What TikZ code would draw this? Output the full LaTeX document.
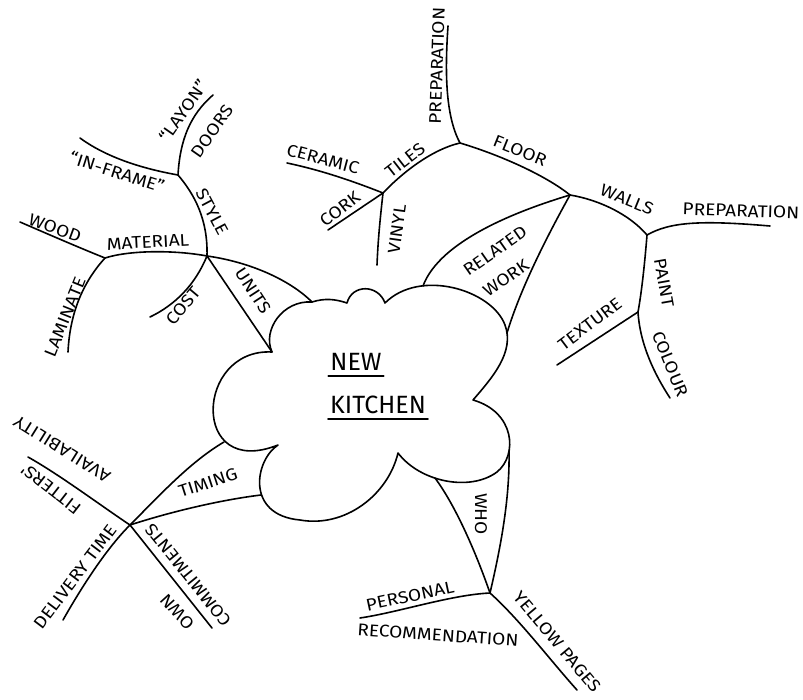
\documentclass[tikz,border=0pt]{standalone}
\usepackage{fontspec}
\setmainfont{Fira Sans}
\newfontfamily\handfont{Fira Sans}[FakeStretch=1.12]
\begin{document}
\begin{tikzpicture}[x=1pt,y=-1pt,
  branch/.style={line width=1.6pt, line cap=round, line join=round},
  lbl/.style={font=\handfont\fontsize{17}{17}\selectfont, inner sep=0pt},
  ttl/.style={font=\fontsize{25}{25}\selectfont, inner sep=2pt}]
\useasboundingbox (0,0) rectangle (803,700);
% hubs
\coordinate (H1) at (207,256);
\coordinate (H2) at (105,258);
\coordinate (H3) at (178,175);
\coordinate (H4) at (460,143);
\coordinate (H5) at (570,195);
\coordinate (H6) at (383,193);
\coordinate (H7) at (647,235);
\coordinate (H8) at (638,312);
\coordinate (H9) at (130,525);
\coordinate (H10) at (490,593);
% free ends
\coordinate (Ewood) at (20,222);
\coordinate (Elam) at (68,352);
\coordinate (Einframe) at (80,138);
\coordinate (Edoors) at (213,95);
\coordinate (Ecost) at (150,317);
\coordinate (EprepF) at (448,26);
\coordinate (Eceramic) at (287,163);
\coordinate (Ecork) at (328,230);
\coordinate (Evinyl) at (377,265);
\coordinate (EprepW) at (770,226);
\coordinate (Etexture) at (557,365);
\coordinate (Ecolour) at (670,398);
\coordinate (Efitters) at (28,457);
\coordinate (Edelivery) at (63,620);
\coordinate (Eown) at (212,628);
\coordinate (Epersonal) at (360,618);
\coordinate (Eyellow) at (577,690);
% cloud points
\coordinate (C1) at (272,352);
\coordinate (C2) at (312,302);
\coordinate (C3) at (347,303);
\coordinate (C4) at (385,303);
\coordinate (C5) at (473,400);
\coordinate (C6) at (398,453);
\coordinate (C7) at (278,445);
\coordinate (Ctu) at (224,442);
\coordinate (Ctl) at (261,495);
\coordinate (Cwl) at (435,478);
\coordinate (Cwr) at (509,451);
\coordinate (Crr) at (507,333);
\coordinate (Crl) at (423,286);
% cloud
\draw[branch] (C1) .. controls (195,348) and (190,480) .. (C7)
  .. controls (255,460) and (245,515) .. (300,520)
  .. controls (345,528) and (388,495) .. (C6)
  .. controls (420,482) and (470,492) .. (497,472)
  .. controls (518,455) and (515,412) .. (C5)
  .. controls (492,378) and (515,352) .. (505,325)
  .. controls (492,290) and (420,268) .. (C4)
  .. controls (378,284) and (352,284) .. (C3)
  .. controls (335,299) and (325,298) .. (C2)
  .. controls (283,300) and (262,330) .. (C1) -- cycle;
\node[ttl] (new) at (356,362) {NEW};
\node[ttl] (kitchen) at (378,405) {KITCHEN};
\draw[branch] ([yshift=-3pt]new.south west) -- ([yshift=-3pt]new.south east);
\draw[branch] ([yshift=-3pt]kitchen.south west) -- ([yshift=-3pt]kitchen.south east);
% units group
\draw[branch] (H1) .. controls (250,262) and (290,280) .. (C2);
\draw[branch] (H1) -- (C1);
\draw[branch] (H1) .. controls (195,285) and (175,305) .. (Ecost);
\draw[branch] (H1) .. controls (175,250) and (130,250) .. (H2);
\draw[branch] (H2) .. controls (80,248) and (50,235) .. (Ewood);
\draw[branch] (H2) .. controls (85,280) and (70,310) .. (Elam);
\draw[branch] (H1) .. controls (208,220) and (195,195) .. (H3);
\draw[branch] (H3) .. controls (150,170) and (110,160) .. (Einframe);
\draw[branch] (H3) .. controls (180,140) and (190,115) .. (Edoors);
\node[lbl, rotate=-57] (units) at (253,291) {UNITS};
\node[lbl, rotate=50] (cost) at (183,306) {COST};
\node[lbl, rotate=3] (material) at (148,242) {MATERIAL};
\node[lbl, rotate=-20] (wood) at (55,228) {WOOD};
\node[lbl, rotate=68] (laminate) at (65,317) {LAMINATE};
\node[lbl, rotate=-62] (style) at (212,212) {STYLE};
\node[lbl, rotate=-18] (inframe) at (117,172) {“IN-FRAME”};
\node[lbl, rotate=55] (layon) at (183,111) {“LAYON”};
\node[lbl, rotate=55] (doors) at (212,131) {DOORS};
% floor group
\draw[branch] (H4) .. controls (500,155) and (545,175) .. (H5);
\draw[branch] (H4) .. controls (445,115) and (445,70) .. (EprepF);
\draw[branch] (H4) .. controls (430,150) and (400,175) .. (H6);
\draw[branch] (H6) .. controls (350,180) and (320,170) .. (Eceramic);
\draw[branch] (H6) -- (Ecork);
\draw[branch] (H6) .. controls (380,220) and (378,240) .. (Evinyl);
\draw[branch] (H5) .. controls (520,210) and (440,240) .. (Crl);
\draw[branch] (H5) .. controls (545,240) and (520,290) .. (Crr);
\node[lbl, rotate=88] (prepF) at (437,66) {PREPARATION};
\node[lbl, rotate=-22] (floor) at (520,151) {FLOOR};
\node[lbl, rotate=38] (tiles) at (405,160) {TILES};
\node[lbl, rotate=-15] (ceramic) at (323,159) {CERAMIC};
\node[lbl, rotate=38] (cork) at (340,209) {CORK};
\node[lbl, rotate=82] (vinyl) at (397,229) {VINYL};
\node[lbl, rotate=35] (related) at (495,251) {RELATED};
\node[lbl, rotate=35] (work) at (506,278) {WORK};
% walls group
\draw[branch] (H5) .. controls (600,200) and (630,215) .. (H7);
\draw[branch] (H7) .. controls (670,222) and (700,220) .. (EprepW);
\draw[branch] (H7) .. controls (645,260) and (642,290) .. (H8);
\draw[branch] (H8) -- (Etexture);
\draw[branch] (H8) .. controls (640,345) and (655,375) .. (Ecolour);
\node[lbl, rotate=-22] (walls) at (627,200) {WALLS};
\node[lbl, rotate=-2] (prepW) at (741,211) {PREPARATION};
\node[lbl, rotate=-80] (paint) at (664,283) {PAINT};
\node[lbl, rotate=37] (texture) at (590,324) {TEXTURE};
\node[lbl, rotate=-68] (colour) at (670,364) {COLOUR};
% timing group
\draw[branch] (H9) .. controls (160,495) and (190,462) .. (Ctu);
\draw[branch] (H9) .. controls (170,512) and (220,500) .. (Ctl);
\draw[branch] (H9) .. controls (100,505) and (60,475) .. (Efitters);
\draw[branch] (H9) .. controls (105,550) and (80,590) .. (Edelivery);
\draw[branch] (H9) -- (Eown);
\node[lbl, rotate=18] (timing) at (208,483) {TIMING};
\node[lbl, rotate=148] (avail) at (62,449) {AVAILABILITY};
\node[lbl, rotate=142] (fitters) at (51,489) {FITTERS'};
\node[lbl, rotate=53] (delivery) at (75,577) {DELIVERY TIME};
\node[lbl, rotate=129] (commit) at (188,575) {COMMITMENTS};
\node[lbl, rotate=132] (own) at (177,612) {OWN};
% who group
\draw[branch] (H10) .. controls (475,550) and (455,505) .. (Cwl);
\draw[branch] (H10) .. controls (500,550) and (510,500) .. (Cwr);
\draw[branch] (H10) .. controls (450,595) and (400,612) .. (Epersonal);
\draw[branch] (H10) .. controls (520,620) and (550,660) .. (Eyellow);
\node[lbl, rotate=-90] (who) at (481,514) {WHO};
\node[lbl, rotate=12] (personal) at (410,596) {PERSONAL};
\node[lbl, rotate=-4] (recomm) at (438,635) {RECOMMENDATION};
\node[lbl, rotate=-50] (yellow) at (557,642) {YELLOW PAGES};
\end{tikzpicture}
\end{document}
